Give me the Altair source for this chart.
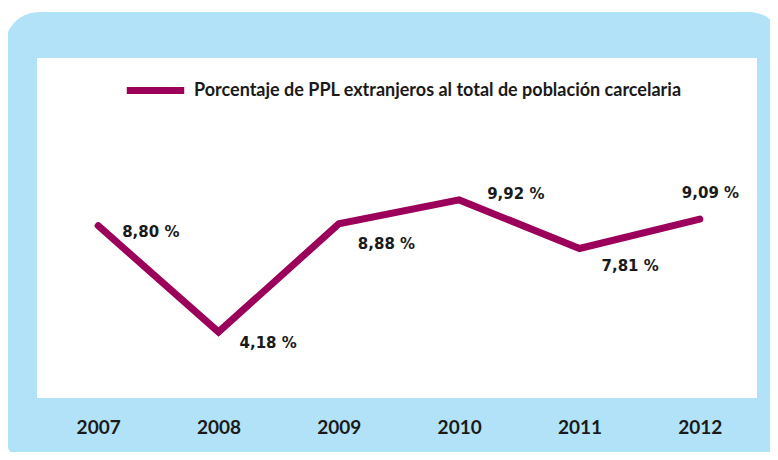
import altair as alt
import pandas as pd

years = ["2007", "2008", "2009", "2010", "2011", "2012"]
values = [8.80, 4.18, 8.88, 9.92, 7.81, 9.09]
series_name = "Porcentaje de PPL extranjeros al total de población carcelaria"
labels = [f"{v:.2f}".replace(".", ",") + " %" for v in values]

BLUE = "#B2E2F7"
MAGENTA = "#9B005A"
INK = "#1A1A1A"

df = pd.DataFrame({"year": years, "value": values, "label": labels,
                   "serie": [series_name] * len(years)})

W, H = 722, 340

panel = alt.Chart(pd.DataFrame({"k": [0]})).mark_rect(
    color=BLUE, cornerRadius=34
).encode(x=alt.value(-33), x2=alt.value(745), y=alt.value(-46), y2=alt.value(410))

white = alt.Chart(pd.DataFrame({"k": [0]})).mark_rect(color="white").encode(
    x=alt.value(-1), x2=alt.value(719), y=alt.value(0), y2=alt.value(H)
)

base = alt.Chart(df)

xenc = alt.X(
    "year:O",
    scale=alt.Scale(type="point", padding=0.5),
    axis=alt.Axis(title=None, labelAngle=0, domain=False, ticks=False, grid=False,
                  labelFont="Lato", labelFontSize=19, labelFontWeight="bold",
                  labelColor=INK, labelPadding=20, zindex=2),
)
yenc = alt.Y("value:Q", scale=alt.Scale(domain=[1.31, 16.09], nice=False, zero=False),
             axis=None)

line = base.mark_line(strokeWidth=7, strokeCap="round", strokeJoin="miter").encode(
    x=xenc, y=yenc,
    color=alt.Color("serie:N", scale=alt.Scale(range=[MAGENTA]),
                    legend=alt.Legend(title=None, orient="none", legendX=85, legendY=0,
                                      symbolType="stroke", symbolStrokeWidth=7,
                                      symbolSize=3300, labelFont="Lato",
                                      labelFontSize=18, labelFontWeight="bold",
                                      labelColor=INK, labelOffset=6, labelLimit=0,
                                      zindex=2)),
)

offsets = {
    "2007": (24, 6),
    "2008": (21, 11),
    "2009": (19, 20),
    "2010": (28, -6),
    "2011": (22, 18),
    "2012": (-18, -26),
}

texts = []
for yr in years:
    dx, dy = offsets[yr]
    texts.append(
        base.transform_filter(alt.datum.year == yr).mark_text(
            align="left", baseline="middle", dx=dx, dy=dy,
            font="DejaVu Sans", fontSize=15, fontWeight="bold", color=INK
        ).encode(x=xenc, y=yenc, text="label:N")
    )

chart = alt.layer(panel, white, line, *texts).properties(
    width=W, height=H,
    padding={"left": 30, "top": 50, "right": 10, "bottom": 54},
    autosize=alt.AutoSizeParams(type="none"),
    background="white",
).configure_view(stroke=None)

chart.save("out.html", embed_options={"renderer": "svg", "actions": False})
